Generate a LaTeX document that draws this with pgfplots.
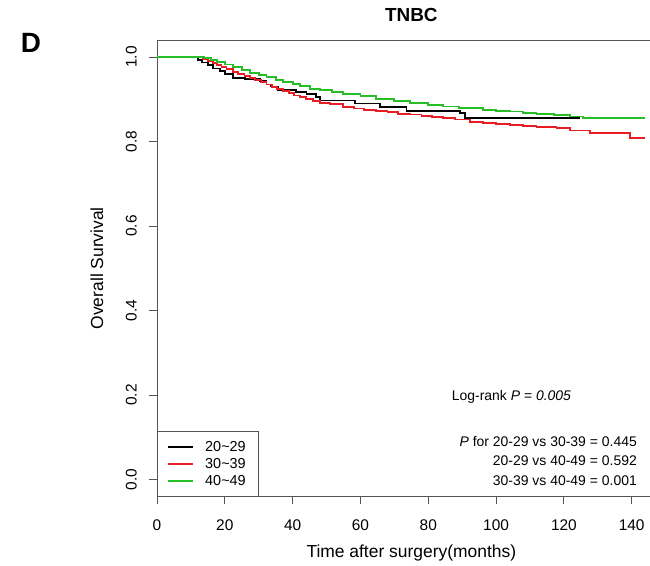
\documentclass[border=0pt]{standalone}
\usepackage{pgfplots}
\pgfplotsset{compat=1.18}
\usepackage{fontspec}
\setmainfont{Liberation Sans}
\definecolor{kmred}{RGB}{232,30,36}
\definecolor{kmgreen}{RGB}{40,190,40}
\definecolor{axgray}{RGB}{85,85,85}

\begin{document}
\begin{tikzpicture}
\begin{axis}[
  at={(157bp,69.6bp)}, anchor=south west,
  scale only axis, width=508.6bp, height=456.3bp,
  xmin=0, xmax=150, ymin=-0.04, ymax=1.04,
  axis line style={axgray, line width=0.9bp},
  xtick={0,20,40,60,80,100,120,140},
  ytick={0,0.2,0.4,0.6,0.8,1},
  tick align=outside, major tick length=7.5bp,
  tick style={axgray, line width=0.9bp},
  xtick pos=bottom, ytick pos=left,
  /pgf/number format/assume math mode=true,
  tick label style={font=\fontsize{15.5}{18}\selectfont, inner sep=0pt},
  xticklabel style={anchor=north, yshift=-16bp},
  yticklabel style={xshift=-12.5bp, rotate=90, anchor=south},
  yticklabel={\pgfmathprintnumber[fixed, fixed zerofill, precision=1]{\tick}},
  xlabel={Time after surgery(months)},
  ylabel={Overall Survival},
  label style={font=\fontsize{17.5}{20}\selectfont},
  xlabel style={at={(axis description cs:0.5,-0.1247)}, anchor=center},
  ylabel style={at={(axis description cs:-0.118,0.5)}, anchor=center, rotate=0},
  legend style={at={(axis description cs:0,0)}, anchor=south west, draw=axgray,
    fill=white, font=\fontsize{14.5}{17}\selectfont,
    inner xsep=10bp, inner ysep=7.7bp, row sep=1.4bp,
    nodes={inner sep=2bp, text depth=0.15em}},
  legend cell align=left,
  legend image code/.code={\draw[#1, line width=2bp] (0bp,0bp) -- (25bp,0bp); \path (34bp,0bp);},
  legend image post style={line width=2bp},
]
\addplot[black, const plot, line width=1.8bp] coordinates {
(0,1) (12.2,0.993) (13.2,0.987) (15.1,0.981) (16.6,0.973) (18.6,0.967)
(20.0,0.959) (22.5,0.951) (25.9,0.947) (30.3,0.943) (32.3,0.935) (33.7,0.930)
(35.7,0.922) (41.1,0.918) (44.1,0.912) (47.0,0.906) (48.1,0.897) (58.5,0.890)
(65.8,0.881) (73.6,0.873) (89.4,0.867) (90.8,0.855) (124.7,0.855)};
\addlegendentry{20\textasciitilde 29}
\addplot[kmred, const plot, line width=1.8bp] coordinates {
(0,1) (12.2,1) (13.5,0.996) (15,0.990) (16.5,0.985) (17.6,0.981) (19,0.976)
(20.5,0.971) (22.5,0.965) (24,0.960) (25.8,0.955) (27.4,0.950) (29,0.945)
(30.7,0.940) (32.3,0.935) (34,0.929) (35.5,0.924) (37.2,0.919) (39,0.914)
(40.5,0.909) (42.2,0.905) (44,0.900) (46,0.896) (48.1,0.892) (51,0.888)
(54.9,0.882) (58,0.878) (61,0.875) (64.7,0.872) (68,0.869) (71,0.866)
(74.5,0.864) (78,0.861) (81,0.858) (84.4,0.856) (88,0.852) (92.3,0.847)
(96.2,0.843) (100,0.841) (104.1,0.839) (108,0.837) (111.9,0.835) (117.8,0.831)
(121.8,0.826) (127.6,0.821) (139.4,0.808) (143.8,0.808)};
\addlegendentry{30\textasciitilde 39}
\addplot[kmgreen, const plot, line width=1.8bp] coordinates {
(0,1) (12.2,1) (14,0.997) (16,0.993) (17.6,0.988) (20,0.982) (22.5,0.976)
(25,0.970) (27.4,0.963) (30,0.958) (32.3,0.952) (35,0.946) (37.2,0.941)
(40,0.936) (42.2,0.931) (45.1,0.925) (48.1,0.921) (51.5,0.917) (54.9,0.913)
(60,0.907) (64.7,0.901) (70,0.896) (74.5,0.892) (80,0.887) (84.4,0.883)
(89,0.880) (92.3,0.879) (96.2,0.875) (100,0.873) (104.1,0.871) (108,0.868)
(111.9,0.865) (117,0.862) (121.8,0.859) (125.6,0.855) (143.8,0.855)};
\addlegendentry{40\textasciitilde 49}
\end{axis}
\node[font=\fontsize{19}{22}\selectfont\bfseries, anchor=center] at (411.3bp,550.7bp) {TNBC};
\node[font=\fontsize{28}{30}\selectfont\bfseries, anchor=center] at (31bp,523bp) {D};
\node[font=\fontsize{14}{16}\selectfont, anchor=base west, inner sep=0pt] at (451.7bp,165.3bp) {Log-rank \textit{P} = \textit{0.005}};
\node[font=\fontsize{14}{16}\selectfont, anchor=base east, inner sep=0pt] at (637bp,119.3bp) {\textit{P} for 20-29 vs 30-39 = 0.445};
\node[font=\fontsize{14}{16}\selectfont, anchor=base east, inner sep=0pt] at (637bp,100bp) {20-29 vs 40-49 = 0.592};
\node[font=\fontsize{14}{16}\selectfont, anchor=base east, inner sep=0pt] at (637bp,80bp) {30-39 vs 40-49 = 0.001};
\pgfresetboundingbox
\path[use as bounding box] (0bp,0bp) rectangle (650bp,566bp);
\end{tikzpicture}
\end{document}
